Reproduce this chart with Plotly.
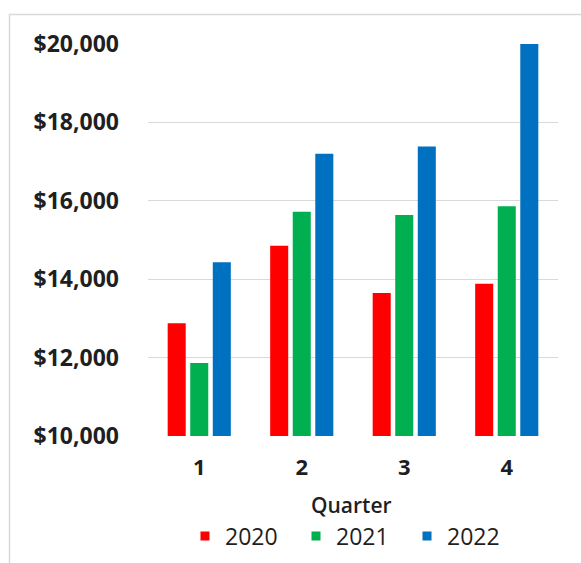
import plotly.graph_objects as go

quarters = ["1", "2", "3", "4"]
years = ["2020", "2021", "2022"]
sales_2020 = [12875, 14855, 13650, 13885]
sales_2021 = [11865, 15720, 15640, 15860]
sales_2022 = [14430, 17200, 17385, 20000]
colors = ["#FF0000", "#00B050", "#0070C0"]
y_ticks = [10000, 12000, 14000, 16000, 18000, 20000]
y_tick_labels = ["$10,000", "$12,000", "$14,000", "$16,000", "$18,000", "$20,000"]

series = [sales_2020, sales_2021, sales_2022]
FONT = "Open Sans"
TXT = "#1f1f1f"

fig = go.Figure()
for name, vals, c in zip(years, series, colors):
    fig.add_trace(go.Bar(x=quarters, y=vals, name=name, showlegend=False,
                         marker=dict(color=c, line=dict(width=0))))
# legend entries with small square keys
for name, c in zip(years, colors):
    fig.add_trace(go.Scatter(x=[None], y=[None], mode="markers", name=name,
                             marker=dict(symbol="square", size=9, color=c)))

W, H = 581, 563
L, R, T, B = 148, 23, 44, 127
pw, ph = W - L - R, H - T - B

def px_x(px):
    return (px - L) / pw

def px_y(py):
    return (H - B - py) / ph

fig.update_layout(
    width=W, height=H,
    margin=dict(l=L, r=R, t=T, b=B, autoexpand=False),
    paper_bgcolor="white", plot_bgcolor="white",
    barmode="group", bargap=0.34, bargroupgap=0.2,
    font=dict(family=FONT, color=TXT),
    showlegend=True,
    legend=dict(orientation="h", x=px_x(185), xanchor="left", y=px_y(536), yanchor="middle",
                font=dict(family=FONT, size=23, color=TXT),
                entrywidth=66, entrywidthmode="pixels", itemwidth=30),
    xaxis=dict(type="category", showgrid=False, showline=False, zeroline=False, ticks="",
               tickfont=dict(family=FONT, size=22, color=TXT, weight="bold"),
               ticklabelstandoff=16, fixedrange=True),
    yaxis=dict(range=[10000, 20000], tickvals=y_ticks, ticktext=y_tick_labels,
               showgrid=True, gridcolor="#d9d9d9", gridwidth=1, zeroline=False, showline=False,
               tickfont=dict(family=FONT, size=23, color=TXT, weight="bold"),
               ticklabelstandoff=28, ticks="", fixedrange=True),
    shapes=[dict(type="rect", xref="paper", yref="paper",
                 x0=px_x(9.5), x1=px_x(600), y0=px_y(600), y1=px_y(14.5),
                 line=dict(color="#d9d9d9", width=1.5), fillcolor="rgba(0,0,0,0)", layer="below")],
    annotations=[dict(text="Quarter", xref="paper", yref="paper", x=px_x(351), y=px_y(505),
                      xanchor="center", yanchor="middle", showarrow=False,
                      font=dict(family=FONT, size=21, color=TXT, weight=600))],
)

fig.write_html("out.html", config={"displayModeBar": False},
               post_script="document.body.style.margin='0';document.body.style.overflow='hidden';")
